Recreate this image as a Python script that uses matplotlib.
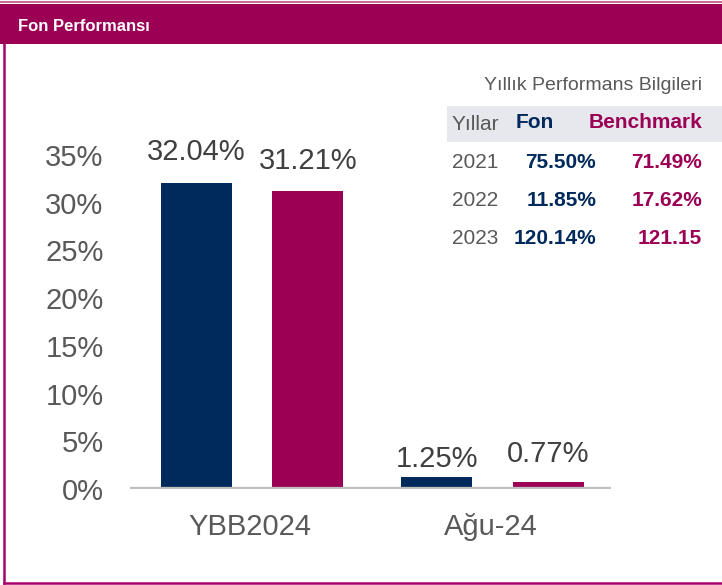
import matplotlib
matplotlib.use("Agg")
import matplotlib.pyplot as plt
from matplotlib.patches import Rectangle
from matplotlib.lines import Line2D

plt.rcParams['font.family'] = ['Liberation Sans', 'DejaVu Sans']

# ---- data ----
categories = ["YBB2024", "Ağu-24"]
fon_values = [32.04, 1.25]
bench_values = [31.21, 0.77]
yticks = [0, 5, 10, 15, 20, 25, 30, 35]
ytick_labels = ["0%", "5%", "10%", "15%", "20%", "25%", "30%", "35%"]

title = "Fon Performansı"
table_title = "Yıllık Performans Bilgileri"
table_headers = ["Yıllar", "Fon", "Benchmark"]
table_years = ["2021", "2022", "2023"]
table_fon = ["75.50%", "11.85%", "120.14%"]
table_bench = ["71.49%", "17.62%", "121.15"]

# ---- styles ----
NAVY = "#002A5C"
MAG = "#9B0055"
GRAY_TXT = "#595959"
W, H = 722, 585

fig = plt.figure(figsize=(W / 100, H / 100), dpi=100)

def fx(x):
    return x / W

def fy(y):
    return 1 - y / H

# header band
fig.patches.append(Rectangle((0, fy(44)), 1, fy(4) - fy(44), transform=fig.transFigure,
                             facecolor=MAG, edgecolor="none", zorder=0))
fig.lines.append(Line2D([0, 1], [fy(1.5), fy(1.5)], transform=fig.transFigure,
                        color="#B8508A", lw=1.2))
fig.text(fx(18), fy(26.5), title, color="white", fontsize=12, fontweight="bold",
         va="center", ha="left")
# frame lines
fig.lines.append(Line2D([fx(4), fx(4)], [fy(44), fy(583)], transform=fig.transFigure,
                        color="#A8006A", lw=1.8))
fig.lines.append(Line2D([fx(4), 1], [fy(583), fy(583)], transform=fig.transFigure,
                        color="#A8006A", lw=1.8))

# ---- chart ----
ax = fig.add_axes([fx(130), fy(489), fx(611) - fx(130), fy(155) - fy(489)])
x = list(range(len(categories)))
bw = 0.296
fon_x = [i - 0.225 for i in x]
bench_x = [i + 0.239 for i in x]
ax.bar(fon_x, fon_values, width=bw, color=NAVY, zorder=2)
ax.bar(bench_x, bench_values, width=bw, color=MAG, zorder=2)
ax.axhline(0, color="#BFBFBF", lw=3.8, zorder=3)

label_pad = [[16.5, 7.2], [15.8, 14.4]]  # points above bar top (baseline)
for j, (xs, vals) in enumerate([(fon_x, fon_values), (bench_x, bench_values)]):
    for i, (xx, v) in enumerate(zip(xs, vals)):
        ax.annotate(f"{v:.2f}%", (xx, v), xytext=(0, label_pad[j][i]),
                    textcoords="offset points", ha="center", va="baseline",
                    fontsize=21, color="#404040", annotation_clip=False)

ax.set_xlim(-0.5, 1.5)
ax.set_ylim(0, 35)
ax.set_yticks(yticks)
ax.set_yticklabels(ytick_labels)
ax.set_xticks(x)
ax.set_xticklabels(categories)
ax.tick_params(axis="y", length=0, pad=19, labelsize=21, labelcolor=GRAY_TXT)
ax.tick_params(axis="x", length=0, pad=17, labelsize=21, labelcolor=GRAY_TXT)
for s in ax.spines.values():
    s.set_visible(False)
ax.patch.set_alpha(0)

# ---- table ----
fig.text(fx(702), fy(85), table_title, ha="right", va="center", fontsize=14, color=GRAY_TXT)
fig.patches.append(Rectangle((fx(447), fy(142)), 1 - fx(447), fy(106) - fy(142),
                             transform=fig.transFigure, facecolor="#E6E8ED",
                             edgecolor="none", zorder=0))
hy = 124
fig.text(fx(452), fy(hy + 1), table_headers[0], ha="left", va="center", fontsize=15, color=GRAY_TXT)
fig.text(fx(534.5), fy(hy - 1), table_headers[1], ha="center", va="center", fontsize=15,
         color=NAVY, fontweight="bold")
fig.text(fx(702), fy(hy - 1), table_headers[2], ha="right", va="center", fontsize=15,
         color=MAG, fontweight="bold")
row_y = [163, 200, 239]
for yy, yr, fv, bv in zip(row_y, table_years, table_fon, table_bench):
    fig.text(fx(452), fy(yy), yr, ha="left", va="center", fontsize=15, color=GRAY_TXT)
    fig.text(fx(596), fy(yy), fv, ha="right", va="center", fontsize=15, color=NAVY,
             fontweight="bold")
    fig.text(fx(702), fy(yy), bv, ha="right", va="center", fontsize=15, color=MAG,
             fontweight="bold")

fig.savefig("out.png", dpi=100)
